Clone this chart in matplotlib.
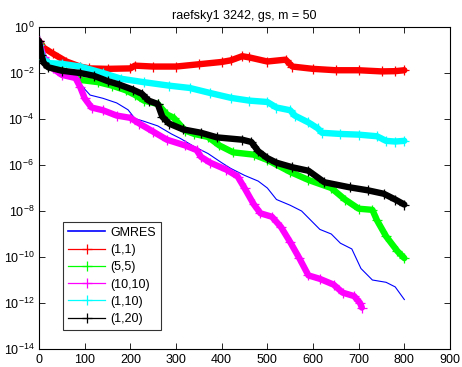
import numpy as np
import matplotlib
matplotlib.use("Agg")
import matplotlib.pyplot as plt
from matplotlib.lines import Line2D

plt.rcParams['font.family'] = ['Liberation Sans', 'DejaVu Sans']
plt.rcParams['mathtext.fontset'] = 'custom'
plt.rcParams['mathtext.rm'] = 'Liberation Sans'

# residual histories, stored as (iteration, log10 residual)
gmres_it = [0, 3, 10, 30, 60, 85, 100, 112, 140, 170, 195, 210, 230, 260, 290, 310, 340, 370,
            400, 420, 450, 480, 500, 520, 550, 575, 590, 615, 640, 660, 685, 705, 730, 760, 780, 800]
gmres_lg = [0, -1.0, -1.5, -1.8, -2.0, -2.3, -2.7, -2.96, -3.1, -3.3, -3.6, -3.98, -4.1, -4.3, -4.65,
            -4.85, -5.2, -5.5, -5.9, -6.15, -6.45, -6.7, -7.0, -7.5, -7.75, -8.0, -8.3, -8.8, -9.0,
            -9.4, -9.65, -10.5, -11.0, -11.1, -11.3, -11.85]

r11_it = [0, 10, 30, 60, 90, 110, 150, 200, 210, 250, 300, 350, 400, 420, 445, 460, 500, 540,
          555, 600, 650, 700, 750, 780, 800]
r11_lg = [-0.6, -0.9, -1.15, -1.5, -1.72, -1.8, -1.82, -1.8, -1.68, -1.72, -1.72, -1.62, -1.52,
          -1.45, -1.27, -1.32, -1.5, -1.42, -1.72, -1.82, -1.88, -1.88, -1.93, -1.92, -1.88]

r55_it = [0, 10, 20, 40, 60, 80, 90, 130, 160, 190, 210, 230, 260, 280, 295, 320, 340, 370, 395,
          425, 470, 500, 550, 590, 640, 670, 700, 730, 740, 760, 785, 800]
r55_lg = [-0.7, -1.4, -1.65, -1.8, -1.95, -2.15, -2.3, -2.4, -2.55, -2.75, -2.95, -3.2, -3.35,
          -3.8, -3.95, -4.5, -4.65, -4.78, -5.15, -5.45, -5.55, -5.78, -6.3, -6.65, -7.0, -7.5,
          -7.9, -7.95, -8.4, -9.1, -9.75, -10.05]

r1010_it = [0, 10, 20, 30, 50, 80, 90, 100, 115, 140, 170, 200, 220, 250, 280, 320, 345, 355, 375,
            410, 435, 450, 470, 485, 510, 530, 550, 570, 590, 615, 645, 665, 690, 703, 707]
r1010_lg = [-0.6, -1.3, -1.55, -1.8, -2.08, -2.22, -2.6, -3.1, -3.5, -3.62, -3.85, -3.95, -4.2,
            -4.55, -4.9, -5.15, -5.35, -5.65, -5.9, -6.2, -6.5, -7.0, -7.7, -8.1, -8.25, -8.7,
            -9.35, -10.05, -10.8, -10.95, -11.2, -11.55, -11.7, -12.0, -12.2]

r110_it = [0, 10, 20, 50, 90, 140, 180, 230, 285, 330, 375, 420, 460, 500, 520, 550, 560, 590,
           610, 620, 660, 700, 740, 760, 780, 800]
r110_lg = [-0.8, -1.4, -1.57, -1.6, -1.72, -2.0, -2.25, -2.4, -2.55, -2.65, -2.87, -3.08, -3.2,
           -3.26, -3.5, -3.62, -3.85, -4.15, -4.4, -4.6, -4.65, -4.68, -4.75, -4.95, -4.98, -4.95]

r120_it = [0, 5, 10, 20, 50, 90, 120, 150, 175, 205, 225, 240, 260, 270, 285, 315, 355, 390, 445,
           465, 480, 500, 520, 555, 590, 625, 680, 720, 755, 780, 800]
r120_lg = [-0.6, -1.2, -1.55, -1.75, -1.9, -2.0, -2.12, -2.35, -2.5, -2.72, -2.9, -3.2, -3.35,
           -3.9, -4.2, -4.45, -4.6, -4.8, -4.9, -5.0, -5.4, -5.7, -5.9, -6.1, -6.25, -6.75, -6.97,
           -7.1, -7.25, -7.5, -7.72]

labels = ['GMRES', '(1,1)', '(5,5)', '(10,10)', '(1,10)', '(1,20)']
colors = ['#0000ff', '#ff0000', '#00ff00', '#ff00ff', '#00ffff', '#000000']

fig = plt.figure(figsize=(4.62, 3.67), dpi=100)
ax = fig.add_axes([39 / 462, 18 / 367, 411 / 462, 322 / 367])

ax.semilogy(gmres_it, 10.0 ** np.array(gmres_lg), color=colors[0], lw=0.8, zorder=2)

series = [(r11_it, r11_lg), (r55_it, r55_lg), (r1010_it, r1010_lg),
          (r110_it, r110_lg), (r120_it, r120_lg)]
for (it, lg), c in zip(series, colors[1:]):
    y = 10.0 ** np.array(lg)
    ax.semilogy(it, y, color=c, lw=4.6, solid_capstyle='round', solid_joinstyle='round', zorder=3)
    ax.semilogy(it, y, color=c, lw=0, marker='+', ms=7, mew=0.9, zorder=3)

ax.set_xlim(0, 900)
ax.set_ylim(1e-14, 1e0)
ax.set_xticks(range(0, 901, 100))
ax.set_yticks([10.0 ** k for k in range(-14, 1, 2)])
ax.minorticks_off()
ax.tick_params(direction='in', top=True, right=True, labelsize=9, length=4, width=0.6)
for s in ax.spines.values():
    s.set_linewidth(0.8)

ax.set_title('raefsky1 3242, gs, m = 50', fontsize=9, pad=6)

handles = [Line2D([], [], color=colors[0], lw=1.2)]
for c in colors[1:]:
    handles.append(Line2D([], [], color=c, lw=0.9, marker='+', ms=7, mew=0.9))
leg = ax.legend(handles, labels, loc='lower left', bbox_to_anchor=(0.058, 0.059),
                fontsize=9, frameon=True, fancybox=False, edgecolor='k',
                handlelength=3.0, handletextpad=0.4, labelspacing=0.42, borderpad=0.4,
                borderaxespad=0)
leg.get_frame().set_linewidth(0.8)

fig.savefig('out.png', dpi=100)
